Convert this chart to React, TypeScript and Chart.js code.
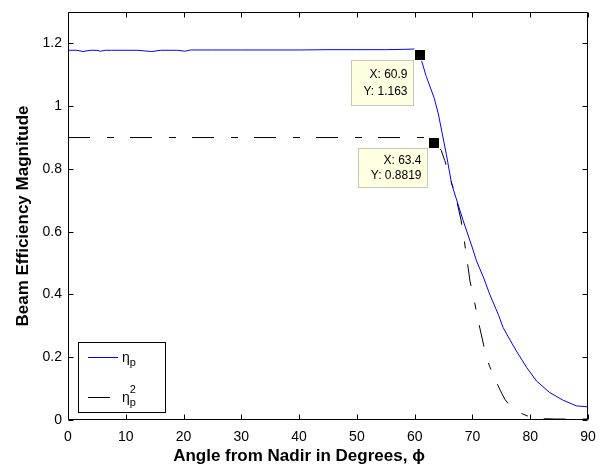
import React, { useEffect, useRef } from 'react';
import { Chart, registerables } from 'chart.js';
Chart.register(...registerables);

const etaX = [0, 1.5, 2.6, 3.8, 5, 5.6, 6.5, 7.5, 9, 12, 14.5, 16, 19, 20.2, 21.2, 25, 30, 35, 40, 45, 50, 55, 58, 60, 60.9, 62, 63.4, 64.1, 65.5, 66.4, 67.2, 68.4, 70, 70.7, 72, 73, 74.5, 75.3, 76.5, 77.6, 79.4, 81.1, 83.4, 85.7, 88, 90];
const etaY = [1.178, 1.178, 1.174, 1.178, 1.178, 1.175, 1.178, 1.178, 1.178, 1.178, 1.174, 1.178, 1.178, 1.175, 1.179, 1.179, 1.179, 1.179, 1.179, 1.18, 1.18, 1.18, 1.181, 1.182, 1.163, 1.095, 1.025, 0.975, 0.845, 0.752, 0.705, 0.635, 0.548, 0.507, 0.45, 0.4, 0.335, 0.295, 0.255, 0.22, 0.167, 0.124, 0.087, 0.063, 0.045, 0.042];
const eta2X = [0, 62.5, 63.4, 64.6, 65.2, 66.1, 67, 68, 68.6, 69.6, 70.3, 71, 71.9, 72.4, 73, 73.9, 74.8, 75.6, 76.5, 77.3, 78.2, 79.5, 80.8, 82.5, 84.5, 87, 90];
const eta2Y = [0.9, 0.9, 0.8819, 0.859, 0.827, 0.773, 0.72, 0.64, 0.57, 0.44, 0.382, 0.316, 0.242, 0.199, 0.17, 0.13, 0.095, 0.066, 0.045, 0.034, 0.023, 0.013, 0.007, 0.004, 0.003, 0.003, 0.003];

const xTicks = [0, 10, 20, 30, 40, 50, 60, 70, 80, 90];
const yTicks = [0, 0.2, 0.4, 0.6, 0.8, 1, 1.2];

const tipX = [60.9, 63.4];
const tipY = [1.163, 0.8819];
const tipLabelX = ['60.9', '63.4'];
const tipLabelY = ['1.163', '0.8819'];

const seriesBase = ['η', 'η'];
const seriesSub = ['p', 'p'];
const seriesSup = ['', '2'];
const seriesColor = ['#0000ff', '#000000'];

const xTitle = 'Angle from Nadir in Degrees, ϕ';
const yTitle = 'Beam Efficiency Magnitude';

const FONT = '"Liberation Sans", Arial, sans-serif';

const framePlugin = {
  id: 'frame',
  afterDatasetsDraw(chart: any) {
    const { ctx, chartArea: a, scales } = chart;
    const xs = scales.x, ys = scales.y;
    ctx.save();
    ctx.strokeStyle = '#000';
    ctx.lineWidth = 1;
    ctx.beginPath();
    const L = Math.round(a.left) + 0.5, R = Math.round(a.right) - 0.5;
    const T = Math.round(a.top) + 0.5, B = Math.round(a.bottom) - 0.5;
    ctx.rect(L, T, R - L, B - T);
    const tl = 5;
    xTicks.forEach((v) => {
      const px = Math.round(xs.getPixelForValue(v)) + 0.5;
      ctx.moveTo(px, B); ctx.lineTo(px, B - tl);
      ctx.moveTo(px, T); ctx.lineTo(px, T + tl);
    });
    yTicks.forEach((v) => {
      const py = Math.round(ys.getPixelForValue(v)) + 0.5;
      ctx.moveTo(L, py); ctx.lineTo(L + tl, py);
      ctx.moveTo(R, py); ctx.lineTo(R - tl, py);
    });
    ctx.stroke();
    ctx.restore();
  },
  afterDraw(chart: any) {
    const { ctx, scales } = chart;
    const xs = scales.x, ys = scales.y;
    ctx.save();
    // x axis title (offset left of plot centre, as in the source figure)
    ctx.fillStyle = '#000';
    ctx.font = 'bold 17px ' + FONT;
    ctx.textAlign = 'center';
    ctx.textBaseline = 'middle';
    ctx.fillText(xTitle, 299, 456);

    // data tips
    tipX.forEach((tx, i) => {
      const px = xs.getPixelForValue(tx);
      const py = ys.getPixelForValue(tipY[i]);
      ctx.font = '12px ' + FONT;
      const l1 = 'X: ' + tipLabelX[i];
      const l2 = 'Y: ' + tipLabelY[i];
      const w = Math.round(Math.max(ctx.measureText(l1).width, ctx.measureText(l2).width) + 18);
      const h = i === 0 ? 45 : 39;
      const bx = Math.round(px - 7 - w) + 0.5;
      const by = Math.round(py + 5) + 0.5;
      ctx.fillStyle = '#ffffe1';
      ctx.fillRect(bx, by, w, h);
      ctx.strokeStyle = '#c8c8b8';
      ctx.lineWidth = 1;
      ctx.strokeRect(bx, by, w, h);
      ctx.fillStyle = '#000';
      ctx.textAlign = 'right';
      ctx.textBaseline = 'middle';
      const g = i === 0 ? 17 : 15;
      ctx.fillText(l1, bx + w - 6, by + h / 2 - g / 2);
      ctx.fillText(l2, bx + w - 6, by + h / 2 + g / 2);
      // marker
      ctx.fillStyle = '#ffffe1';
      ctx.fillRect(Math.round(px) - 6, Math.round(py) - 6, 12, 12);
      ctx.fillStyle = '#000';
      ctx.fillRect(Math.round(px) - 5, Math.round(py) - 5, 10, 10);
    });

    // legend
    const lx = 78.5, ly = 342.5, lw = 87, lh = 70;
    ctx.fillStyle = '#fff';
    ctx.fillRect(lx, ly, lw, lh);
    ctx.strokeStyle = '#000';
    ctx.lineWidth = 1;
    ctx.setLineDash([]);
    ctx.strokeRect(lx, ly, lw, lh);
    const rowsY = [357.5, 397.5];
    chart.data.datasets.forEach((ds: any, i: number) => {
      const y = rowsY[i];
      ctx.strokeStyle = seriesColor[i];
      ctx.lineWidth = 1;
      ctx.setLineDash(ds.borderDash || []);
      ctx.beginPath();
      ctx.moveTo(88, y);
      ctx.lineTo(118, y);
      ctx.stroke();
      ctx.setLineDash([]);
      ctx.fillStyle = '#000';
      ctx.textAlign = 'left';
      ctx.textBaseline = 'alphabetic';
      ctx.font = '14px ' + FONT;
      const bx = 122;
      const base = y + 4;
      ctx.fillText(seriesBase[i], bx, base);
      const bw = ctx.measureText(seriesBase[i]).width;
      ctx.font = '11px ' + FONT;
      ctx.fillText(seriesSub[i], bx + bw, base + 4);
      if (seriesSup[i]) ctx.fillText(seriesSup[i], bx + bw, base - 9);
    });
    ctx.restore();
  },
};

export default function App() {
  const ref = useRef<HTMLCanvasElement>(null);
  useEffect(() => {
    if (!ref.current) return;
    const chart = new Chart(ref.current, {
      type: 'line',
      data: {
        datasets: [
          {
            label: 'eta_p',
            data: etaX.map((x, i) => ({ x, y: etaY[i] })),
            borderColor: seriesColor[0],
            borderWidth: 1,
            pointRadius: 0,
            tension: 0,
            fill: false,
          },
          {
            label: 'eta_p^2',
            data: eta2X.map((x, i) => ({ x, y: eta2Y[i] })),
            borderColor: seriesColor[1],
            borderWidth: 1,
            borderDash: [22, 17, 7, 16],
            pointRadius: 0,
            tension: 0,
            fill: false,
          },
        ],
      },
      options: {
        responsive: false,
        animation: false,
        devicePixelRatio: 1,
        layout: { padding: { top: 12, right: 16, left: 0, bottom: 0 } },
        plugins: { legend: { display: false }, tooltip: { enabled: false }, title: { display: false } },
        scales: {
          x: {
            type: 'linear',
            min: 0,
            max: 90,
            afterBuildTicks: (s: any) => { s.ticks = xTicks.map((v) => ({ value: v })); },
            afterFit: (s: any) => { s.height = 48; },
            grid: { display: false },
            border: { display: false },
            ticks: {
              color: '#000',
              font: { family: FONT, size: 14 },
              padding: 1,
              maxRotation: 0,
              callback: (v: any) => String(v),
            },
            title: { display: false },
          },
          y: {
            type: 'linear',
            min: 0,
            max: 1.3,
            afterBuildTicks: (s: any) => { s.ticks = yTicks.map((v) => ({ value: v })); },
            afterFit: (s: any) => { s.width = 68; },
            grid: { display: false },
            border: { display: false },
            ticks: {
              color: '#000',
              font: { family: FONT, size: 14 },
              padding: -2,
              callback: (v: any) => String(Number(Number(v).toFixed(1))),
            },
            title: {
              display: true,
              text: yTitle,
              color: '#000',
              font: { family: FONT, size: 17, weight: 'bold' },
              padding: { top: 13, bottom: 0 },
            },
          },
        },
      },
      plugins: [framePlugin],
    } as any);
    return () => chart.destroy();
  }, []);
  return (
    <div style={{ position: 'absolute', left: 0, top: 0, width: 604, height: 468, background: '#fff' }}>
      <canvas ref={ref} width={604} height={468} style={{ display: 'block' }} />
    </div>
  );
}
